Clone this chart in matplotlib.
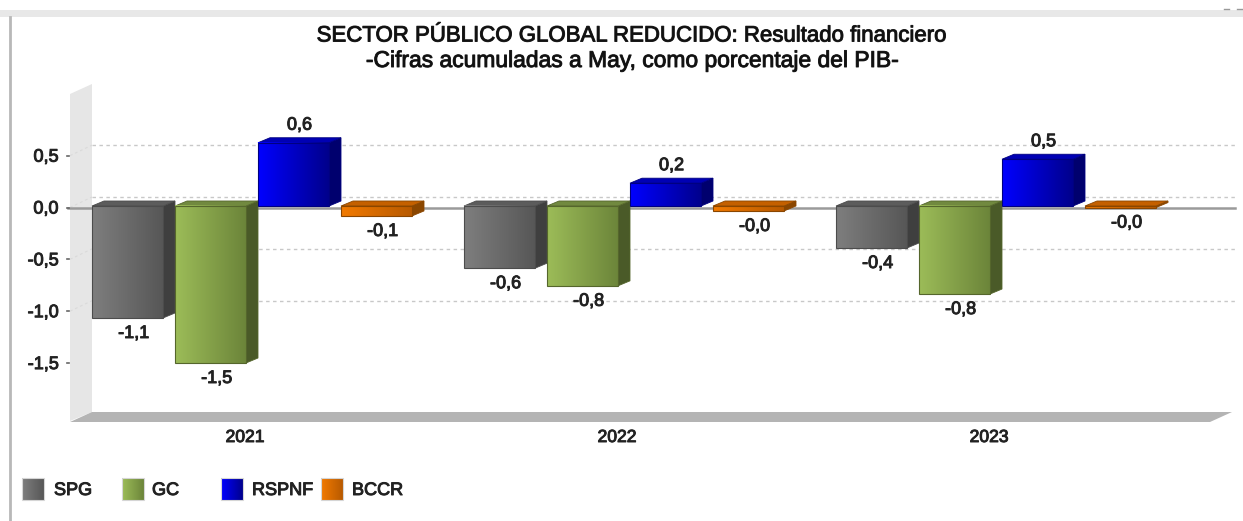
import numpy as np
import matplotlib
matplotlib.use("Agg")
import matplotlib.pyplot as plt
import matplotlib.patheffects as pe
from matplotlib.colors import LinearSegmentedColormap
from matplotlib.patches import Polygon, Rectangle

plt.rcParams['font.family'] = ['Liberation Sans', 'DejaVu Sans']

years = ['2021', '2022', '2023']
series_names = ['SPG', 'GC', 'RSPNF', 'BCCR']
spg = [-1.08, -0.60, -0.405]
gc = [-1.514, -0.77, -0.849]
rspnf = [0.61, 0.22, 0.451]
bccr = [-0.096, -0.048, -0.015]
y_ticks = [0.5, 0.0, -0.5, -1.0, -1.5]
grid_levels = [0.5, 0.0, -0.5, -1.0]

light = ['#7e7e7e', '#9cbc58', '#0000ff', '#f27a00']
dark = ['#575757', '#6c853a', '#00008c', '#b85a00']
side = ['#3f3f3f', '#4a5a28', '#00006e', '#8a4600']
top = ['#5c5c5c', '#71893f', '#0000b4', '#c46000']
edge = ['#4c4c4c', '#55662c', '#000080', '#8a4600']

W, H = 1243, 521
PX_X = 372.0      # pixels per group
PX_Y = 103.7      # pixels per y unit
X0, Y0 = 92, 206  # pixel of group 0 left edge / y = 0
BW, STEP = 71 / PX_X, 83 / PX_X
DX, DY = 12 / PX_X, 5 / PX_Y
GX, GY = 22 / PX_X, 9 / PX_Y
AXIS_SHIFT = -1.5 / PX_Y
STROKE = [pe.withStroke(linewidth=0.7, foreground='#222222')]

fig = plt.figure(figsize=(W / 100, H / 100), dpi=100, facecolor='white')

# chrome axes, in picture pixels
bg = fig.add_axes([0, 0, 1, 1], zorder=0)
bg.set_xlim(0, W); bg.set_ylim(H, 0); bg.axis('off')
bg.add_patch(Rectangle((0, 10), W, 7, fc='#e8e8e8', ec='none'))
bg.plot([10, 10], [17, H], color='#b8b8b8', lw=2)
bg.plot([1224, 1229], [9, 9], color='#999999', lw=1)
bg.plot([1237, 1243], [9, 9], color='#999999', lw=1)
bg.add_patch(Polygon([(70, 94), (92, 84), (92, 412), (70, 421)], fc='#e6e6e6', ec='none'))
bg.add_patch(Polygon([(92, 412), (1232, 412), (1210, 422), (70, 422)], fc='#b4b4b4', ec='none'))

# data axes
ax = fig.add_axes([0, 0, 1, 1], zorder=1)
ax.patch.set_alpha(0)
ax.set_xlim(-X0 / PX_X, (W - X0) / PX_X)
ax.set_ylim(-(H - Y0) / PX_Y, Y0 / PX_Y)
ax.axis('off')

xl = (92 - X0) / PX_X
xr = (1236 - X0) / PX_X
for g in grid_levels:
    ax.plot([xl, xr], [g + GY, g + GY], color='#c8c8c8', lw=1, ls=(0, (2.5, 2.5)), zorder=1)
    ax.plot([xl - GX, xl], [g + AXIS_SHIFT, g + GY], color='#dadada', lw=0.8, ls=(0, (2.5, 2.5)), zorder=1)
ax.plot([(68 - X0) / PX_X, (1235 - X0) / PX_X], [AXIS_SHIFT, AXIS_SHIFT], color='#9a9a9a', lw=1.8, zorder=2)
for t in y_ticks:
    ax.plot([(67 - X0) / PX_X, (69 - X0) / PX_X], [t + AXIS_SHIFT, t + AXIS_SHIFT], color='#666666', lw=1.2, zorder=2)
    ax.text((58.5 - X0) / PX_X, t + AXIS_SHIFT - 1.5 / PX_Y, f'{t:.1f}'.replace('.', ','), ha='right', va='center',
            fontsize=13, color='#222222', path_effects=STROKE)


def gradient(axes, x0, x1, y0, y1, c0, c1, z):
    cmap = LinearSegmentedColormap.from_list('g', [c0, c1])
    return axes.imshow(np.linspace(0, 1, 64).reshape(1, -1), extent=(x0, x1, y0, y1),
                       cmap=cmap, aspect='auto', zorder=z, interpolation='bilinear')


all_series = [spg, gc, rspnf, bccr]
for s, vals in enumerate(all_series):
    for g, v in enumerate(vals):
        x0 = g + s * STEP
        x1 = x0 + BW
        lo, hi = min(v, 0), max(v, 0)
        z = 3 + g * 4 + s * 0.5
        ax.add_patch(Polygon([(x1, lo), (x1 + DX, lo + DY), (x1 + DX, hi + DY), (x1, hi)],
                             fc=side[s], ec=edge[s], lw=0.6, zorder=z))
        ax.add_patch(Polygon([(x0, hi), (x0 + DX, hi + DY), (x1 + DX, hi + DY), (x1, hi)],
                             fc=top[s], ec=edge[s], lw=0.6, zorder=z))
        gradient(ax, x0, x1, lo, hi, light[s], dark[s], z + 0.1)
        ax.add_patch(Rectangle((x0, lo), BW, hi - lo, fc='none', ec=edge[s], lw=0.8, zorder=z + 0.2))
        label = f'{v:.1f}'.replace('.', ',')
        ty = hi + DY if v > 0 else lo
        off = 12.5 if v > 0 else -15.5
        ax.annotate(label, (x0 + BW / 2 + DX / 2, ty), xytext=(0, off * 0.72), textcoords='offset points',
                    ha='center', va='center', fontsize=13, color='#222222', zorder=30, path_effects=STROKE)

ax.set_xlim(-X0 / PX_X, (W - X0) / PX_X)
ax.set_ylim(-(H - Y0) / PX_Y, Y0 / PX_Y)

for g, yr in enumerate(years):
    ax.text(g + 153 / PX_X, -(437.5 - Y0) / PX_Y, yr, ha='center', va='center',
            fontsize=12.6, color='#222222', path_effects=STROKE)

# legend
lx = [22, 122, 221, 321]
tx = [54, 152, 252, 352]
for s, name in enumerate(series_names):
    gradient(bg, lx[s], lx[s] + 22, 500, 478, light[s], dark[s], 3)
    bg.add_patch(Rectangle((lx[s], 478), 22, 22, fc='none', ec='#d5d5d5', lw=0.8, zorder=4))
    bg.text(tx[s], 490.5, name, ha='left', va='center', fontsize=13, color='#222222', path_effects=STROKE)
bg.set_xlim(0, W); bg.set_ylim(H, 0)

fig.text(632 / W, 1 - 36 / H, 'SECTOR PÚBLICO GLOBAL REDUCIDO: Resultado financiero',
         ha='center', va='center', fontsize=16, color='#111111', path_effects=STROKE)
fig.text(633 / W, 1 - 60.5 / H, '-Cifras acumuladas a May, como porcentaje del PIB-',
         ha='center', va='center', fontsize=16.45, color='#111111', path_effects=STROKE)

fig.savefig('out.png', dpi=100, facecolor='white')
